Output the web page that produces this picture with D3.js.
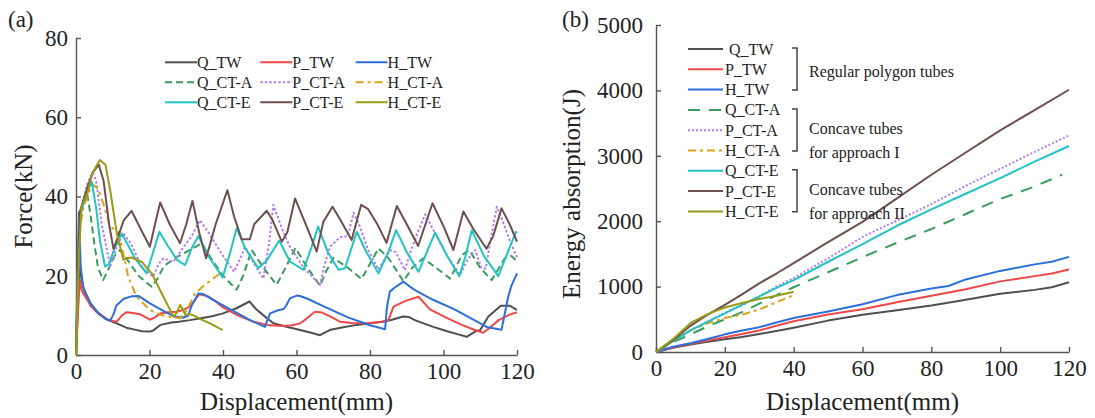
<!DOCTYPE html>
<html>
<head>
<meta charset="utf-8">
<script src="https://cdn.jsdelivr.net/npm/d3@7"></script>
<style>
  body { margin: 0; background: #ffffff; }
  svg text { font-family: "Liberation Serif", "DejaVu Serif", serif !important; }
</style>
</head>
<body>
<div id="chart"></div>
<script>

//series names, same order in both panels
var seriesNames = ["Q_TW", "P_TW", "H_TW", "Q_CT-A", "P_CT-A", "H_CT-A", "Q_CT-E", "P_CT-E", "H_CT-E"];

//tick values
var forceXTicks = [0, 20, 40, 60, 80, 100, 120];
var forceYTicks = [0, 20, 40, 60, 80];
var energyXTicks = [0, 20, 40, 60, 80, 100, 120];
var energyYTicks = [0, 1000, 2000, 3000, 4000, 5000];

//group labels of the energy legend
var groupLabels = [["Regular polygon tubes"], ["Concave tubes", "for approach I"], ["Concave tubes", "for approach II"]];

//(a) force vs displacement, [mm, kN]
var forceQTW = [[0,0],[0.5,12],[1,24],[1.5,19],[2,17],[3,14.5],[4,12.5],[6,10.5],[8,9.2],[10,8.4],[12,7.6],[14,6.8],[16,6.4],[18,6],[20,5.9],[21,6.2],[23,7.6],[26,8.2],[28,8.4],[31,8.8],[34,9.3],[37,9.8],[40,10.5],[43.7,11.8],[47.2,13.5],[49.2,11.4],[51,10],[53.7,8],[57,7.2],[61,6.3],[64,5.6],[66.4,5],[69,6.3],[72,6.9],[76.4,7.6],[80,8],[83.6,8.4],[86,8.9],[89,9.7],[90.5,9.6],[92.2,8.8],[97.2,7.1],[101,6],[104,5.2],[106.3,4.6],[108.6,5.9],[110,6.3],[112.2,9.7],[115.6,12.4],[118.1,12.4],[120,11.4]];
var forcePTW = [[0,0],[0.5,10],[1,19],[1.5,16.5],[2,15.5],[3,14],[4,12.5],[5.5,11],[7,10],[8.5,9],[10,8.6],[11.1,8.4],[12.5,10],[13.8,10.8],[15.5,10.6],[17.4,10.3],[20.1,8.9],[21.5,9.5],[22.9,10.5],[25,10.8],[27.4,10.9],[29.5,11.5],[31,12.2],[32.5,14],[33.5,15.3],[36,14.8],[38,13.5],[40,12],[44,10],[48,8.5],[52,7.6],[56,7.3],[59,7.5],[61,8],[62.5,9],[65,10.9],[67,10.7],[69,9.8],[71.8,8.4],[75,8.1],[79.1,8],[83,8.4],[85,8.8],[86.4,12.2],[89.5,13.6],[93.2,14.7],[96.3,11.5],[101,9.3],[105,7.6],[108,6.5],[110.8,5.6],[112.5,6.8],[115,8.8],[118,10.2],[120,10.8]];
var forceHTW = [[0,0],[0.4,20],[0.8,36],[1.3,22],[2,17],[3,15],[4,13],[6,10.7],[8,9.1],[9.3,8.6],[10.3,10.5],[11,12.5],[13,14.2],[15.1,14.8],[17,14.9],[20,13.1],[24,11],[26.5,9.8],[29,9.4],[30.5,9.9],[31.5,12.5],[33.3,15.5],[34.5,15.4],[36,14.6],[41,12],[45,10],[48,8.5],[51.4,7.1],[52.8,10.5],[55,11.3],[56.5,11.6],[57.2,12.5],[58.2,14.3],[60,15],[61,14.9],[63,14.2],[68,12],[74,9.5],[80,7.5],[84.1,6.5],[84.6,12],[85.4,16],[87,17.2],[89.1,18.5],[92,16.5],[97,14],[103,11.5],[108,9],[112,7],[115.8,6.4],[116.8,11],[117.6,14.7],[118.5,17.5],[120,20.6]];
var forceQCTA = [[0,0],[0.5,20],[1,34],[2,39],[3,41],[4,35],[5,28],[6,22],[7.4,18.9],[9,22],[10.5,25],[12,26.5],[14,24],[17,20],[20.6,17.2],[22,19],[24,22.5],[27,24.5],[31,26.5],[34.2,28.2],[37,24],[40,20],[43.7,16.5],[45.5,20],[47.8,26.5],[51,22],[54.6,17.7],[57,22],[59.7,27],[63,22],[66.4,17.5],[68,21],[70,24.5],[74,22],[77.7,19.2],[80,23],[82.3,26.9],[85,24.5],[89.1,18.6],[91.5,22],[94.5,24.4],[98,22],[101.8,19.3],[105,25.2],[107,26.5],[110,22],[113.1,18.9],[116.7,24.4],[118.5,25],[120,23.6]];
var forcePCTA = [[0,0],[0.5,20],[1,35],[2,39],[3,43],[4.5,46],[5.5,44],[7,33],[9.3,22.5],[11,27],[12.9,30.7],[15,28],[18,22],[21,19.8],[22.5,23],[23.8,24.4],[26.5,23.5],[29.7,27.8],[31.5,30],[33.7,34],[36,31],[40,25],[43,21],[45,25],[46,27.3],[48.5,23],[51,19.3],[52.5,28],[53.7,37.9],[56,32],[58.2,27.3],[62,22],[66.4,17.7],[68,24],[69.1,27.3],[71.8,29.7],[74,30],[75.5,35.9],[77,33],[79.5,26.5],[82.3,21.5],[85.4,26.5],[87,26],[89.5,21.4],[91,26],[93,31],[95,35.5],[97,32],[101,25],[104.5,20.2],[106.5,24],[108.6,26.5],[110.3,22],[111.5,21.8],[113,30],[114.5,37.4],[116,34],[118,29],[120,24.6]];
var forceHCTA = [[0,0],[0.5,18],[1,32],[2,37],[3,40],[4.5,43],[6,42],[7.5,38],[9.3,32.4],[11.5,31],[13,25],[14.2,19.8],[16.5,14.7],[20.1,11.4],[22.5,10.3],[24.7,9.7],[28.3,9.3],[30,11],[32.4,15.6],[35.6,18.1],[39.2,20.6],[40,21]];
var forceQCTE = [[0,0],[0.5,20],[1,35],[2,38],[3,41],[4.3,43.7],[5.5,37],[6.5,29],[7.9,22.3],[9,23],[10.5,27],[12.4,30.7],[14,28],[16,24.5],[19.2,20.6],[21,26],[22.7,31.1],[25,27.5],[27.5,24],[29.7,22.7],[31.5,27],[33.3,30],[36,25],[39.9,19.6],[42,26],[43.7,32],[46,27],[49.6,21.9],[52,24],[55.3,28.9],[58.2,23.6],[61.9,21.5],[64,27],[65.9,32.4],[68.5,26],[71.4,21.5],[73.2,21.9],[76.4,31.1],[79,26],[82.3,20.6],[85,26],[87.1,31.5],[90,26],[93.2,21],[95.5,26],[97.7,30.9],[101,25],[104.3,19.9],[106,25],[107.7,31.5],[111,25],[114.9,19.9],[117.5,26],[119.7,31.1],[120,30.8]];
var forcePCTE = [[0,0],[0.5,20],[1,36],[2,39],[3,42],[4.5,46],[6.2,48],[7.5,44],[9,33],[10.2,26.8],[11.5,30],[13,34],[15.1,36.4],[17.5,32],[20.1,27.3],[21.5,33],[22.9,38.5],[25.5,33],[28.3,28.2],[30,33],[31.7,38.9],[33.5,31],[35.4,24.4],[38,33],[41.2,41.6],[43,35],[45.1,29.2],[47.3,29.2],[48.5,33],[49.5,34],[51.9,36.4],[53.5,34],[56,28.6],[57.5,31],[59.6,39.5],[62.5,33],[65.5,26.1],[67.3,33.6],[69.8,37.4],[72,34],[75,29],[77.6,37.9],[79.5,36.8],[82,33],[84.5,28.3],[87.3,37.6],[90,33],[93.1,27.5],[97,38.3],[100,32.5],[102.7,26.5],[105.4,36.2],[108,32],[111.7,26.8],[113.5,30],[115.8,37],[118,33],[120,28.6]];
var forceHCTE = [[0,0],[0.3,10],[0.8,25],[1.5,37.4],[3,40.5],[4.5,46],[6.5,49.2],[8,48],[9.3,41.6],[11.1,30.7],[12.9,24],[14,24.5],[15.1,24.6],[17.9,23.5],[20.6,20.6],[23.3,15.6],[25.6,11.4],[26.5,9.7],[27.3,10.5],[28.3,12.6],[29.1,11.5],[29.7,10.1],[31,10.3],[32.4,9.8],[34,9],[36.5,8],[39.9,6.3]];

//(b) energy absorption vs displacement, [mm, J]
var energyQTW = [[0,0],[5,65],[10,115],[15,155],[20,195],[25,230],[30,275],[35,320],[40,370],[50,480],[60,570],[70,640],[80,710],[90,800],[100,890],[110,950],[115,990],[120,1066]];
var energyPTW = [[0,0],[5,70],[10,125],[15,175],[20,225],[25,275],[30,330],[35,400],[40,470],[50,575],[60,655],[70,760],[80,860],[90,960],[100,1080],[110,1160],[115,1200],[120,1260]];
var energyHTW = [[0,0],[5,80],[10,135],[15,200],[20,270],[25,330],[30,380],[35,450],[40,520],[50,620],[60,730],[70,870],[80,970],[85,1010],[90,1110],[100,1240],[110,1340],[115,1380],[120,1455]];
var energyQCTA = [[0,0],[5,150],[10,270],[15,390],[20,500],[25,610],[30,740],[35,870],[40,990],[50,1220],[60,1450],[70,1670],[80,1880],[90,2110],[100,2340],[110,2530],[118,2710]];
var energyPCTA = [[0,0],[5,170],[10,330],[15,470],[20,600],[25,720],[30,850],[35,1000],[40,1130],[50,1430],[60,1760],[70,2010],[80,2260],[90,2540],[100,2800],[110,3060],[120,3310]];
var energyHCTA = [[0,0],[5,170],[10,330],[15,440],[20,520],[25,570],[30,650],[35,760],[40,870]];
var energyQCTE = [[0,0],[5,170],[10,330],[15,460],[20,590],[25,720],[30,850],[35,980],[40,1100],[50,1380],[60,1650],[70,1930],[80,2180],[90,2420],[100,2660],[110,2910],[120,3150]];
var energyPCTE = [[0,0],[5,180],[10,400],[15,570],[20,720],[25,880],[30,1050],[35,1200],[40,1360],[50,1680],[60,1990],[70,2350],[80,2710],[90,3050],[100,3390],[110,3700],[120,4010]];
var energyHCTE = [[0,0],[5,200],[10,440],[15,580],[20,680],[25,750],[30,810],[35,860],[40,920]];

var forceData = [forceQTW, forcePTW, forceHTW, forceQCTA, forcePCTA, forceHCTA, forceQCTE, forcePCTE, forceHCTE];
var energyData = [energyQTW, energyPTW, energyHTW, energyQCTA, energyPCTA, energyHCTA, energyQCTE, energyPCTE, energyHCTE];

var drawGraph = function(){

	//fonts and colours
	var fontFamily = 'Liberation Serif';
	var axisColor = '#555555';
	var textColor = '#222222';
	var colors = ['#4f4f4f', '#ef4848', '#2d6fd9', '#3a9b5e', '#b57ee6', '#d8a11a', '#22c3c3', '#6f4e4e', '#9b9a17'];
	var dashA = ['none', 'none', 'none', '7,4', '2.5,2', '8,4,3,4', 'none', 'none', 'none'];
	var dashB = ['none', 'none', 'none', '12,9', '2,2', '8,4,3,4', 'none', 'none', 'none'];

	var svg = d3.select('#chart')
		.append('svg')
		.attr('width', 1095)
		.attr('height', 418)
		.attr('font-family', fontFamily)
		.style('background-color', '#ffffff');

	//shared axis styling
	var styleAxis = function(g){
		g.attr('font-family', fontFamily);
		g.select('.domain').attr('stroke', axisColor).attr('stroke-width', 1.4);
		g.selectAll('.tick line').attr('stroke', axisColor).attr('stroke-width', 1.4);
		g.selectAll('.tick text').attr('fill', textColor).attr('font-size', 23);
	};

	//---------- panel (a) ----------
	var xA = d3.scaleLinear().domain([0, 120]).range([76, 517]);
	var yA = d3.scaleLinear().domain([0, 80]).range([355, 38]);

	svg.append('g')
		.attr('transform', 'translate(0,355)')
		.call(d3.axisBottom(xA).tickValues(forceXTicks).tickFormat(d3.format('d')).tickSize(-5).tickSizeOuter(0).tickPadding(8))
		.call(styleAxis);

	svg.append('g')
		.attr('transform', 'translate(76,0)')
		.call(d3.axisLeft(yA).tickValues(forceYTicks).tickFormat(d3.format('d')).tickSize(-5).tickSizeOuter(0).tickPadding(8))
		.call(styleAxis);

	var lineA = d3.line().x(function(d){return xA(d[0]);}).y(function(d){return yA(d[1]);});

	svg.append('g').selectAll('path')
		.data(forceData)
		.enter().append('path')
		.attr('d', lineA)
		.attr('fill', 'none')
		.attr('stroke', function(d, i){return colors[i];})
		.attr('stroke-width', 2)
		.attr('stroke-linejoin', 'round')
		.attr('stroke-dasharray', function(d, i){return dashA[i];});

	//legend in 3 columns
	var legA = svg.append('g').selectAll('g')
		.data(seriesNames)
		.enter().append('g')
		.attr('transform', function(d, i){return 'translate(' + (165 + (i % 3) * 95.3) + ',' + (62.3 + Math.floor(i / 3) * 20) + ')';});
	legA.append('line')
		.attr('x1', 0).attr('x2', 32).attr('y1', 0).attr('y2', 0)
		.attr('stroke', function(d, i){return colors[i];})
		.attr('stroke-width', 2)
		.attr('stroke-dasharray', function(d, i){return dashA[i];});
	legA.append('text')
		.attr('x', 32).attr('y', 5.5)
		.attr('fill', textColor)
		.attr('font-size', 16)
		.text(function(d){return d;});

	svg.append('text')
		.attr('x', 8).attr('y', 27)
		.attr('fill', textColor)
		.attr('font-size', 23)
		.text('(a)');

	svg.append('text')
		.attr('x', 296.5).attr('y', 410)
		.attr('text-anchor', 'middle')
		.attr('fill', textColor)
		.attr('font-size', 25)
		.text('Displacement(mm)');

	svg.append('text')
		.attr('transform', 'translate(32,196.5) rotate(-90)')
		.attr('text-anchor', 'middle')
		.attr('fill', textColor)
		.attr('font-size', 25)
		.text('Force(kN)');

	//---------- panel (b) ----------
	var xB = d3.scaleLinear().domain([0, 120]).range([656, 1069]);
	var yB = d3.scaleLinear().domain([0, 5000]).range([352, 25]);

	svg.append('g')
		.attr('transform', 'translate(0,352)')
		.call(d3.axisBottom(xB).tickValues(energyXTicks).tickFormat(d3.format('d')).tickSize(-5).tickSizeOuter(0).tickPadding(8))
		.call(styleAxis);

	svg.append('g')
		.attr('transform', 'translate(656,0)')
		.call(d3.axisLeft(yB).tickValues(energyYTicks).tickFormat(d3.format('d')).tickSize(-5).tickSizeOuter(0).tickPadding(13))
		.call(styleAxis);

	var lineB = d3.line().x(function(d){return xB(d[0]);}).y(function(d){return yB(d[1]);});

	svg.append('g').selectAll('path')
		.data(energyData)
		.enter().append('path')
		.attr('d', lineB)
		.attr('fill', 'none')
		.attr('stroke', function(d, i){return colors[i];})
		.attr('stroke-width', 2)
		.attr('stroke-linejoin', 'round')
		.attr('stroke-dasharray', function(d, i){return dashB[i];});

	//legend in one column with brackets
	var legB = svg.append('g').selectAll('g')
		.data(seriesNames)
		.enter().append('g')
		.attr('transform', function(d, i){return 'translate(688,' + (49 + i * 20.3) + ')';});
	legB.append('line')
		.attr('x1', 0).attr('x2', 35).attr('y1', 0).attr('y2', 0)
		.attr('stroke', function(d, i){return colors[i];})
		.attr('stroke-width', 2)
		.attr('stroke-dasharray', function(d, i){return dashB[i];});
	legB.append('text')
		.attr('x', function(d, i){return i == 0 ? 41 : 37;}).attr('y', 5.5)
		.attr('fill', textColor)
		.attr('font-size', 16)
		.text(function(d){return d;});

	var groups = svg.append('g').selectAll('g')
		.data(groupLabels)
		.enter().append('g')
		.attr('transform', function(d, i){return 'translate(0,' + (49 + i * 3 * 20.3) + ')';});
	groups.append('path')
		.attr('d', 'M792,-1H797V41H792')
		.attr('fill', 'none')
		.attr('stroke', '#444444')
		.attr('stroke-width', 1.5);
	groups.selectAll('text')
		.data(function(d){return d;})
		.enter().append('text')
		.attr('x', 809)
		.attr('y', function(d, j, nodes){return nodes.length == 1 ? 28 : 24 + j * 24.5;})
		.attr('fill', textColor)
		.attr('font-size', 16)
		.text(function(d){return d;});

	svg.append('text')
		.attr('x', 562).attr('y', 27)
		.attr('fill', textColor)
		.attr('font-size', 23)
		.text('(b)');

	svg.append('text')
		.attr('x', 862.5).attr('y', 410)
		.attr('text-anchor', 'middle')
		.attr('fill', textColor)
		.attr('font-size', 25)
		.text('Displacement(mm)');

	svg.append('text')
		.attr('transform', 'translate(580,194) rotate(-90)')
		.attr('text-anchor', 'middle')
		.attr('fill', textColor)
		.attr('font-size', 25)
		.text('Energy absorption(J)');
};

//call function to draw the graph
drawGraph();
</script>
</body>
</html>
